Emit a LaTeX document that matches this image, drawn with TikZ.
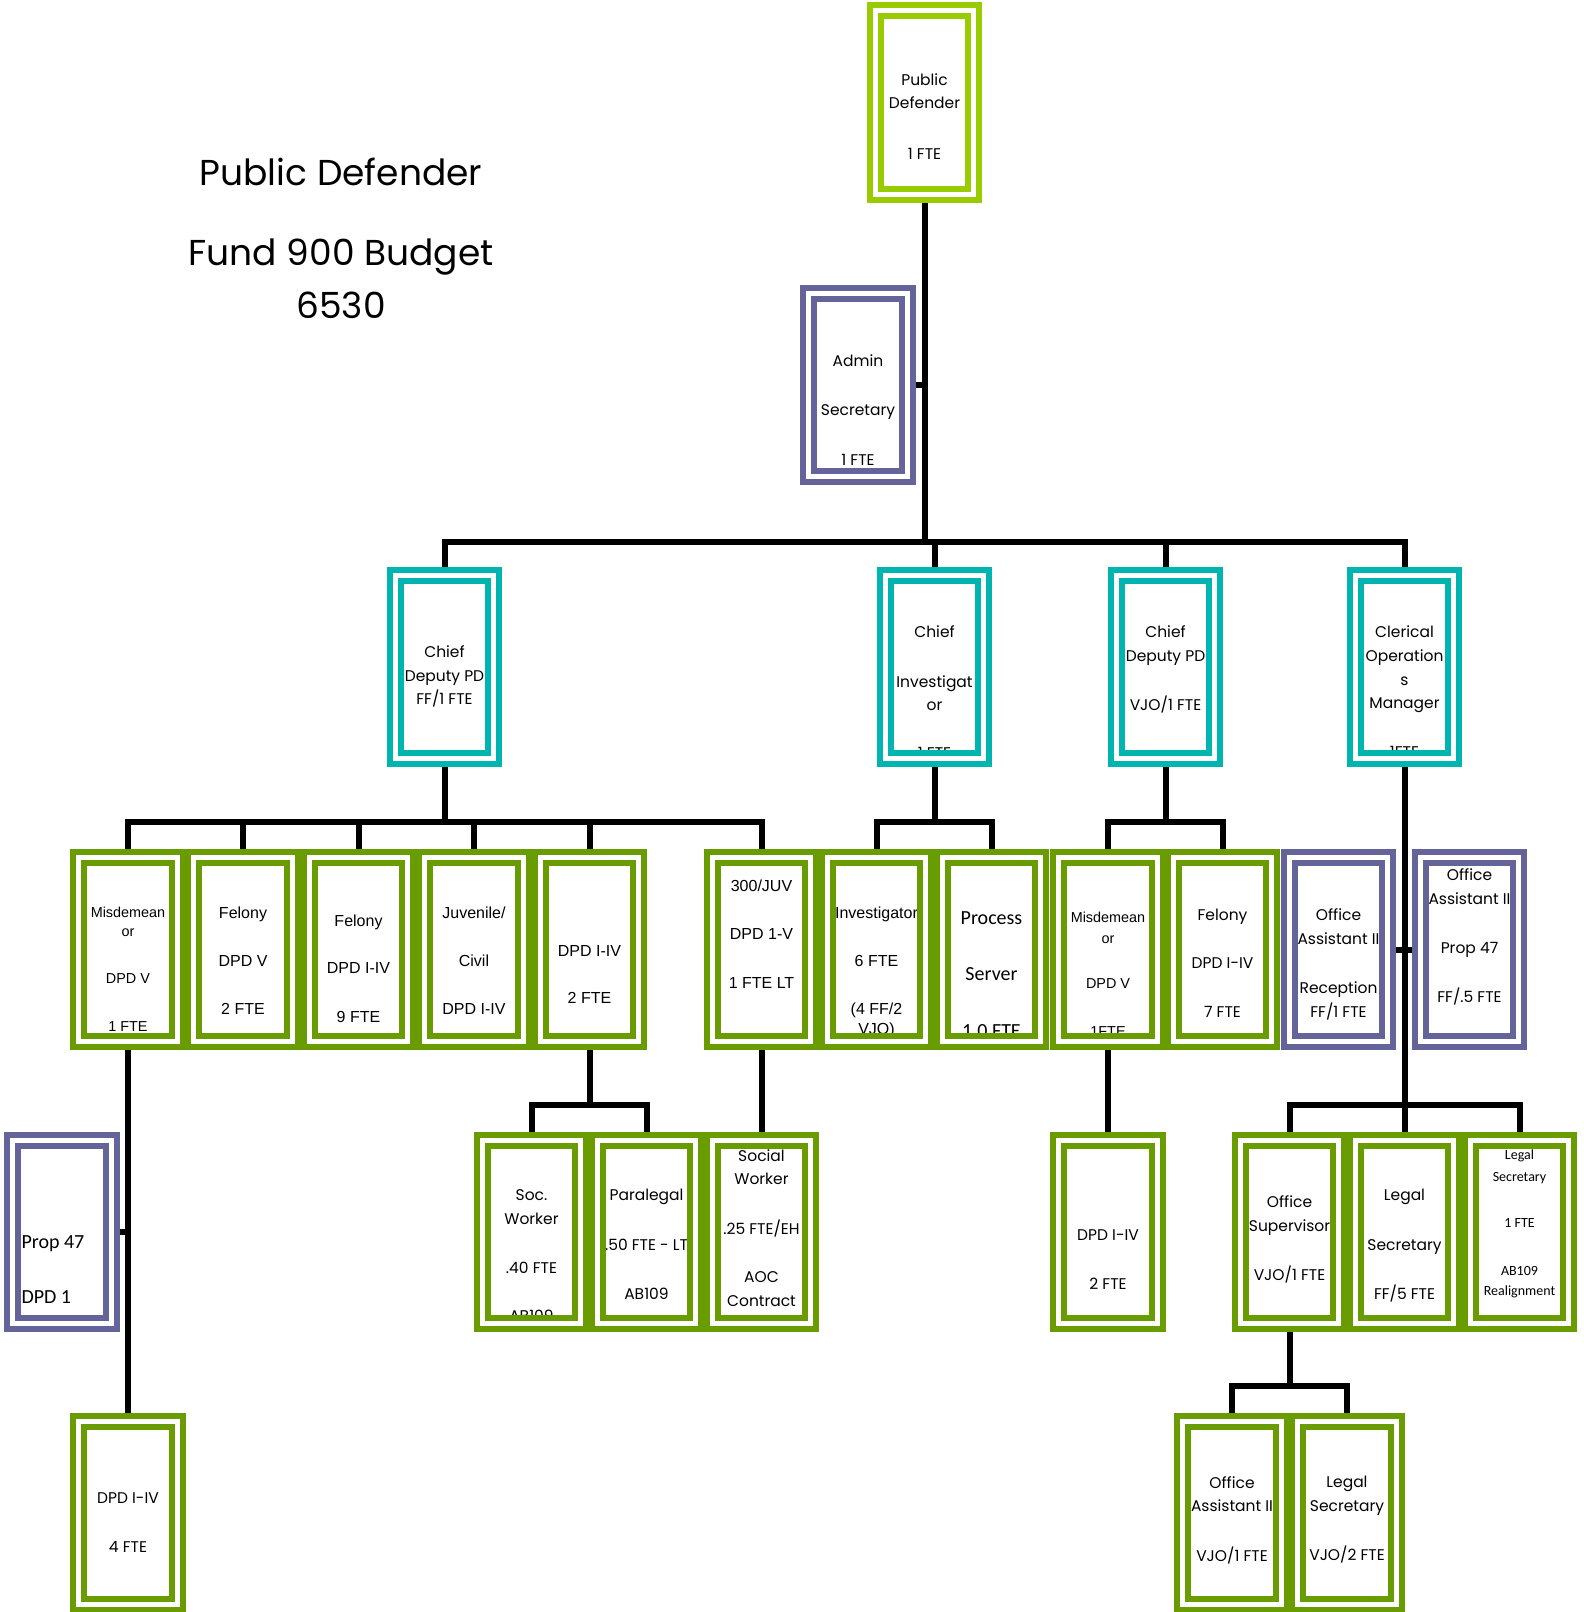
\documentclass[tikz,border=0pt]{standalone}
\usepackage{fontspec}
\usepackage{xcolor}
\usepackage{tikz}
\newfontfamily\gothicfam{Poppins}
\newfontfamily\arialfam{Liberation Sans}
\newfontfamily\calibrifam{Carlito}
\definecolor{pdlime}{RGB}{153,204,0}
\definecolor{pdgreen}{RGB}{104,156,0}
\definecolor{pdteal}{RGB}{0,180,176}
\definecolor{pdpurple}{RGB}{100,100,155}
\tikzset{
    orgchart/.style={x=1pt, y=-1pt},
    box/.style={rectangle, inner sep=0pt, minimum width=98pt, minimum height=183pt},
    frame/.style={line width=6pt, double=white, double distance=5pt},
    conn/.style={line width=6pt},
    gothic/.style={font=\gothicfam\fontsize{15.5}{23.6}\selectfont},
    arial/.style={font=\arialfam\fontsize{16}{23.6}\selectfont},
    arialsmall/.style={font=\arialfam\fontsize{14.4}{18.5}\selectfont},
    calibri/.style={font=\calibrifam\fontsize{20}{24}\selectfont},
    calibrismall/.style={font=\calibrifam\fontsize{14}{21.5}\selectfont},
}
% text of a box: gap from the top, then the lines (may run past the sides)
\newcommand{\boxtext}[3][\centering]{\makebox[98pt]{\parbox[c][183pt][t]{130pt}{#1\vspace*{#2pt}#3}}}

\begin{document}
\begin{tikzpicture}[orgchart]
    \useasboundingbox (0,0) rectangle (1583,1612);

    \node[font=\gothicfam\fontsize{36}{53.4}\selectfont, align=center, inner sep=0pt] (title) at (341,238.3)
        {Public Defender\\[26.8pt]Fund 900 Budget\\6530};

    % top
    \node[box, gothic] (pd)    at (924.5,102.5) {\boxtext{62.6}{Public\\Defender\\[26.8pt]1 FTE}};
    \node[box, gothic] (admin) at (858,385)     {\boxtext{61.2}{Admin\\[25.7pt]Secretary\\[25.7pt]1 FTE}};

    % chiefs
    \node[box, gothic] (cdff)  at (444.5,667)  {\boxtext{70.2}{Chief\\Deputy PD\\FF/1 FTE}};
    \node[box, gothic] (ci)    at (934.5,667)  {\boxtext{50.6}{Chief\\[25.7pt]Investigat\\or\\[23.6pt]1 FTE}};
    \node[box, gothic] (cdvjo) at (1165.5,667) {\boxtext{50.6}{Chief\\Deputy PD\\[25.7pt]VJO/1 FTE}};
    \node[box, gothic] (com)   at (1404.5,667) {\boxtext{50.6}{Clerical\\Operation\\s\\Manager\\[24.7pt]1FTE}};

    % third row
    \node[box, arialsmall] (misff)  at (128,949.5)    {\boxtext{49.4}{Misdemean\\or\\[28.8pt]DPD V\\[29.8pt]1 FTE}};
    \node[box, arial]      (fel5)   at (243,949.5)    {\boxtext{48.8}{Felony\\[24.7pt]DPD V\\[23.7pt]2 FTE}};
    \node[box, arial]      (fel9)   at (358.5,949.5)  {\boxtext{57}{Felony\\[23.7pt]DPD I-IV\\[24.7pt]9 FTE}};
    \node[box, arial]      (juv)    at (474,949.5)    {\boxtext{48.8}{Juvenile/\\[24.7pt]Civil\\[23.7pt]DPD I-IV}};
    \node[box, arial]      (dpd2)   at (589.5,949.5)  {\boxtext{87.8}{DPD I-IV\\[22.7pt]2 FTE}};
    \node[box, arial]      (juv300) at (761.5,949.5)  {\boxtext{22}{300/JUV\\[24.7pt]DPD 1-V\\[24.7pt]1 FTE LT}};
    \node[box, arial]      (inv)    at (876.5,949.5)  {\boxtext{48.8}{Investigator\\[24.7pt]6 FTE\\[23.7pt](4 FF/2\\[-3pt]VJO)}};
    \node[box, calibri]    (proc)   at (991.5,949.5)  {\boxtext{53.4}{Process\\[32.5pt]Server\\[32.5pt]1.0 FTE}};
    \node[box, arialsmall] (misvjo) at (1108,949.5)   {\boxtext{54.5}{Misdemean\\[2.1pt]or\\[26.7pt]DPD V\\[28.8pt]1FTE}};
    \node[box, gothic]     (fel7)   at (1222.5,949.5) {\boxtext{50.8}{Felony\\[24.7pt]DPD I-IV\\[25.7pt]7 FTE}};
    \node[box, gothic]     (oa1)    at (1338.5,949.5) {\boxtext{50.8}{Office\\Assistant II\\[25.7pt]Reception\\FF/1 FTE}};
    \node[box, gothic]     (oaprop) at (1469.5,949.5) {\boxtext{10.7}{Office\\Assistant II\\[25.7pt]Prop 47\\[25.7pt]FF/.5 FTE}};

    % fourth row
    \node[box, calibri]      (prop47) at (62,1232)     {\boxtext[\raggedright\leftskip=24.5pt]{94.8}{Prop 47\\[31.5pt]DPD 1}};
    \node[box, gothic]       (soc)    at (531.5,1232)  {\boxtext{49}{Soc.\\Worker\\[25.7pt].40 FTE\\[24.7pt]AB109}};
    \node[box, gothic]       (para)   at (646.5,1232)  {\boxtext{49}{Paralegal\\[25.7pt].50 FTE - LT\\[25.7pt]AB109}};
    \node[box, gothic]       (sw)     at (761.5,1232)  {\boxtext{8.9}{Social\\Worker\\[25.7pt].25 FTE/EH\\[24.7pt]AOC\\Contract}};
    \node[box, gothic]       (dpd2b)  at (1108,1232)   {\boxtext{89.1}{DPD I-IV\\[25.7pt]2 FTE}};
    \node[box, gothic]       (osup)   at (1289.5,1232) {\boxtext{55.1}{Office\\Supervisor\\[25.7pt]VJO/1 FTE}};
    \node[box, gothic]       (lsff)   at (1404.5,1232) {\boxtext{49}{Legal\\[25.7pt]Secretary\\[25.7pt]FF/5 FTE}};
    \node[box, calibrismall] (lsab)   at (1519.5,1232) {\boxtext{9.7}{Legal\\Secretary\\[24.8pt]1 FTE\\[25.8pt]AB109\\[-1pt]Realignment}};

    % bottom row
    \node[box, gothic] (dpd4)  at (128,1513)  {\boxtext{71.2}{DPD I-IV\\[25.7pt]4 FTE}};
    \node[box, gothic] (oavjo) at (1232,1513) {\boxtext{54.8}{Office\\Assistant II\\[25.7pt]VJO/1 FTE}};
    \node[box, gothic] (lsvjo) at (1347,1513) {\boxtext{54.8}{Legal\\Secretary\\[25.7pt]VJO/2 FTE}};

    % bus levels
    \coordinate (bus1) at (0,541.7);
    \coordinate (bus2) at (0,822.4);
    \coordinate (bus3) at (0,1105);
    \coordinate (bus4) at (0,1386);

    % lines
    \draw[conn] (pd.south) -- (pd.south |- bus1);
    \draw[conn] (admin.east) -- (admin.east -| pd.south);
    \draw[conn] (cdff.north) |- (bus1 -| com.north) -- (com.north);
    \draw[conn] (ci.north) -- (ci.north |- bus1);
    \draw[conn] (cdvjo.north) -- (cdvjo.north |- bus1);

    \draw[conn] (cdff.south) -- (cdff.south |- bus2);
    \draw[conn] (misff.north) |- (bus2 -| juv300.north) -- (juv300.north);
    \foreach \n in {fel5, fel9, juv, dpd2}
        \draw[conn] (\n.north) -- (\n.north |- bus2);
    \draw[conn] (ci.south) -- (ci.south |- bus2);
    \draw[conn] (inv.north) |- (bus2 -| proc.north) -- (proc.north);
    \draw[conn] (cdvjo.south) -- (cdvjo.south |- bus2);
    \draw[conn] (misvjo.north) |- (bus2 -| fel7.north) -- (fel7.north);

    \draw[conn] (com.south) -- (lsff.north);
    \draw[conn] (oa1.east) -- (oaprop.west);
    \draw[conn] (osup.north) |- (bus3 -| lsab.north) -- (lsab.north);
    \draw[conn] (misff.south) -- (dpd4.north);
    \draw[conn] (prop47.east) -- (prop47.east -| misff.south);
    \draw[conn] (dpd2.south) -- (dpd2.south |- bus3);
    \draw[conn] (soc.north) |- (bus3 -| para.north) -- (para.north);
    \draw[conn] (juv300.south) -- (sw.north);
    \draw[conn] (misvjo.south) -- (dpd2b.north);
    \draw[conn] (osup.south) -- (osup.south |- bus4);
    \draw[conn] (oavjo.north) |- (bus4 -| lsvjo.north) -- (lsvjo.north);

    % double frames on top of the texts
    \foreach \n/\c in {pd/pdlime, admin/pdpurple,
            cdff/pdteal, ci/pdteal, cdvjo/pdteal, com/pdteal,
            misff/pdgreen, fel5/pdgreen, fel9/pdgreen, juv/pdgreen, dpd2/pdgreen,
            juv300/pdgreen, inv/pdgreen, proc/pdgreen, misvjo/pdgreen, fel7/pdgreen,
            oa1/pdpurple, oaprop/pdpurple, prop47/pdpurple,
            soc/pdgreen, para/pdgreen, sw/pdgreen, dpd2b/pdgreen,
            osup/pdgreen, lsff/pdgreen, lsab/pdgreen,
            dpd4/pdgreen, oavjo/pdgreen, lsvjo/pdgreen}
        \draw[frame, draw=\c] (\n.south west) rectangle (\n.north east);
\end{tikzpicture}
\end{document}
